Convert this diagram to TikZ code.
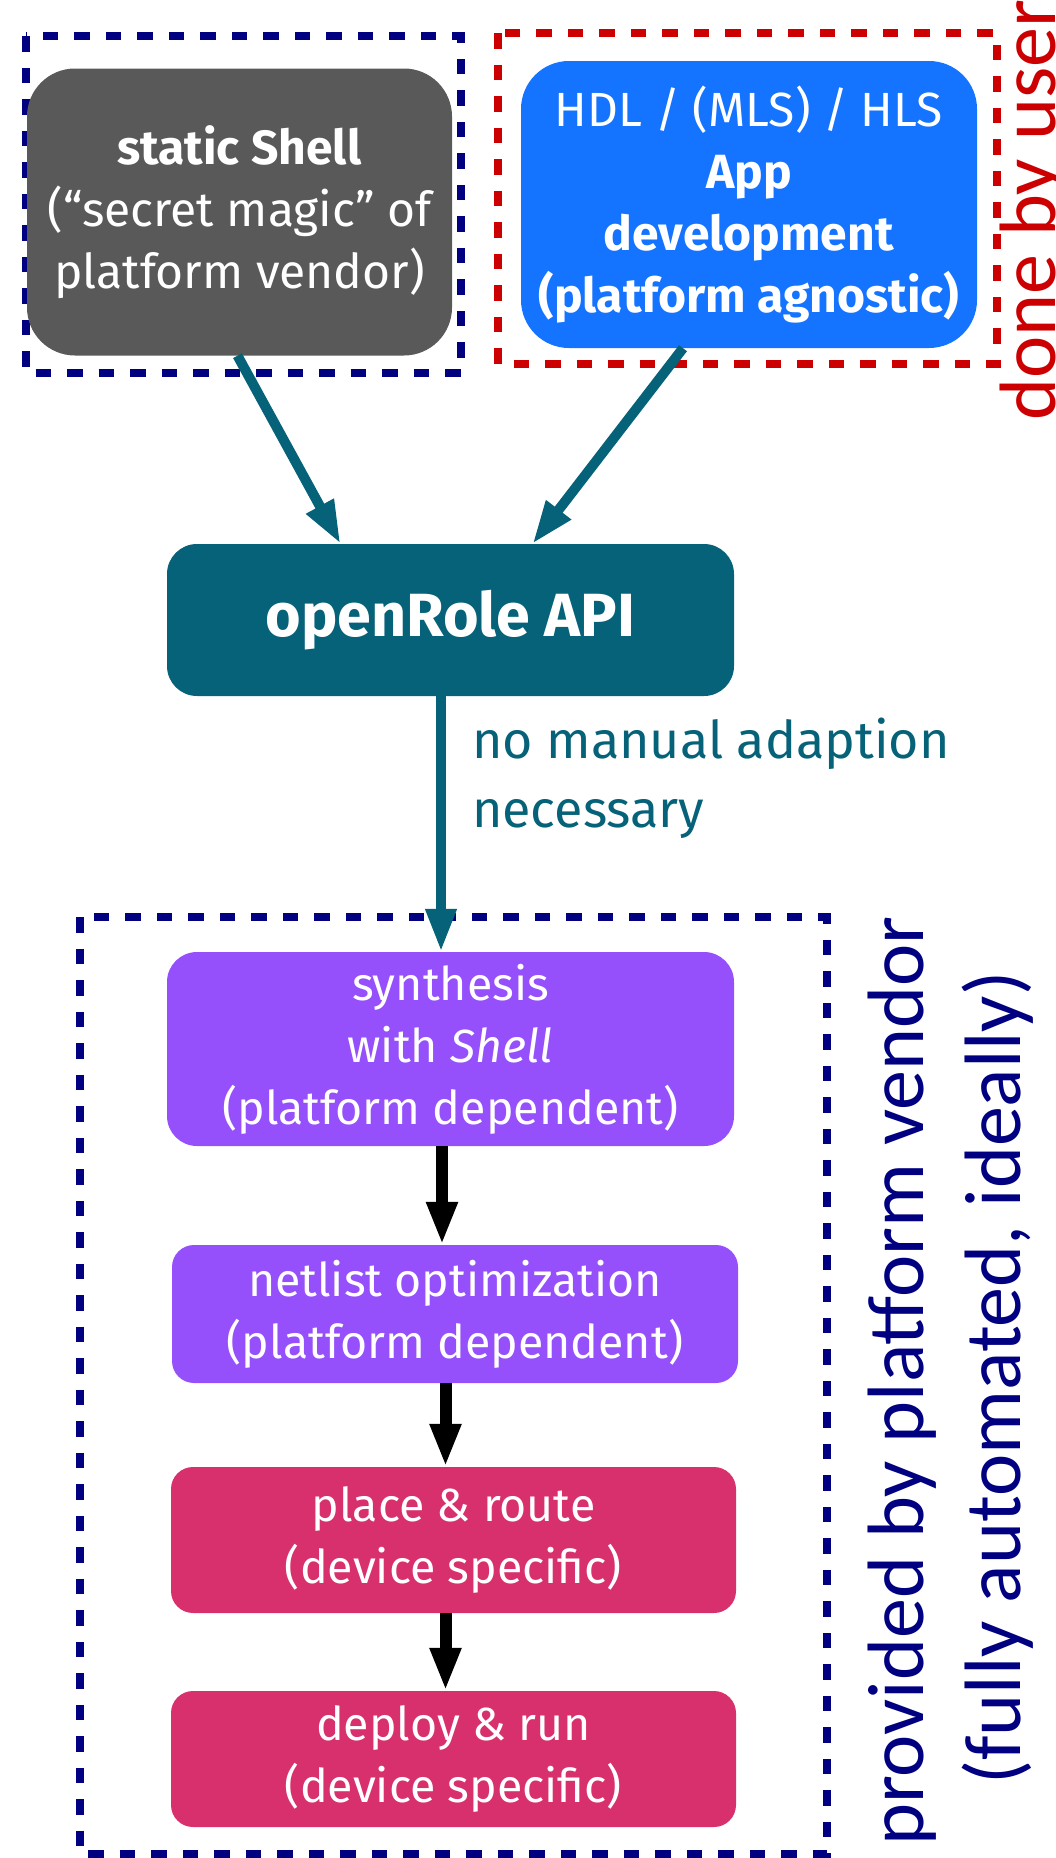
\documentclass[tikz,border=0pt]{standalone}
\usepackage{fontspec}
\setmainfont{Fira Sans}
\newfontfamily\notefont{Carlito}
\usetikzlibrary{arrows.meta,calc}

\definecolor{shellgrey}{HTML}{595959}
\definecolor{appblue}{HTML}{1473FF}
\definecolor{apiteal}{HTML}{056278}
\definecolor{flowpurple}{HTML}{9550FC}
\definecolor{flowmagenta}{HTML}{D8306C}
\definecolor{vendornavy}{HTML}{000080}
\definecolor{userred}{HTML}{CC0000}

\tikzset{
  boxtext/.style={text=white, align=center, inner sep=0pt,
    font=\fontsize{46.5}{62}\selectfont},
  topbox/.style={boxtext, rounded corners=48pt, font=\fontsize{48}{62}\selectfont},
  flowbox/.style={boxtext, rounded corners=22pt},
  groupframe/.style={line width=7.5pt, dash pattern=on 15.5pt off 16pt},
  tealarrow/.style={draw=apiteal, line width=10pt,
    -{Triangle[length=43pt,width=29pt]}, apiteal},
  blackarrow/.style={draw=black, line width=12pt,
    -{Triangle[length=43pt,width=29pt]}},
  sidenote/.style={font=\notefont\fontsize{80}{96}\selectfont, inner sep=0pt, rotate=90}
}

\begin{document}
\begin{tikzpicture}[x=1pt, y=-1pt]
\useasboundingbox (0,0) rectangle (1056,1858);
\clip (0,0) rectangle (1056,1858);

% group frames
\draw[groupframe, vendornavy] (26,36) rectangle (461,373);
\draw[groupframe, userred] (498,33) rectangle (997,364);
\draw[groupframe, vendornavy] (80,917) rectangle (827,1854);

% top row
\node[topbox, fill=shellgrey, minimum width=425pt, minimum height=287pt] (shell) at (239.5,212)
  {\textbf{static Shell}\\(“secret magic” of\\platform vendor)};
\node[topbox, fill=appblue, minimum width=456pt, minimum height=287pt] (app) at (749,204.5)
  {HDL / (MLS) / HLS\\\textbf{App}\\\textbf{development}\\\textbf{(platform agnostic)}};

% API
\node[boxtext, fill=apiteal, rounded corners=30pt, minimum width=567pt, minimum height=152pt,
  font=\fontsize{61}{70}\selectfont\bfseries] (api) at (450.5,620) {openRole API};

% vendor tool flow
\node[flowbox, rounded corners=30pt, fill=flowpurple, minimum width=567pt, minimum height=194pt] (synth) at (450.5,1049)
  {synthesis\\with \textit{Shell}\\(platform dependent)};
\node[flowbox, fill=flowpurple, minimum width=566pt, minimum height=138pt] (netlist) at (455,1314)
  {netlist optimization\\(platform dependent)};
\node[flowbox, fill=flowmagenta, minimum width=565pt, minimum height=146pt] (place) at (453.5,1540)
  {place \& route\\(device specific)};
\node[flowbox, fill=flowmagenta, minimum width=565pt, minimum height=136pt] (deploy) at (453.5,1759)
  {deploy \& run\\(device specific)};

% connectors
\draw[tealarrow] ($(shell.south)+(-2,0)$) -- ($(api.north)+(-110,0)$);
\draw[tealarrow] ($(app.south)+(-66,0)$) -- ($(api.north)+(82,0)$);
\draw[tealarrow] ($(api.south)+(-9.5,0)$) -- ($(synth.north)+(-9.5,0)$)
  node[pos=0.5, anchor=west, text=apiteal, align=left, inner sep=0pt, xshift=26pt, yshift=46pt,
       font=\fontsize{52}{69}\selectfont] (note) {no manual adaption\\necessary};
\draw[blackarrow] ($(synth.south)+(-8.5,0)$) -- ($(netlist.north)+(-13,0)$);
\draw[blackarrow] ($(netlist.south)+(-9.5,0)$) -- ($(place.north)+(-8,0)$);
\draw[blackarrow] ($(place.south)+(-8,0)$) -- ($(deploy.north)+(-8,0)$);

% side annotations
\node[sidenote, text=userred, anchor=base west] (user) at (1055,421) {done by user};
\node[sidenote, text=vendornavy, anchor=base] (vendor) at (923,1381) {provided by platform vendor};
\node[sidenote, text=vendornavy, anchor=base] (auto) at (1020,1378) {(fully automated, ideally)};
\end{tikzpicture}
\end{document}
